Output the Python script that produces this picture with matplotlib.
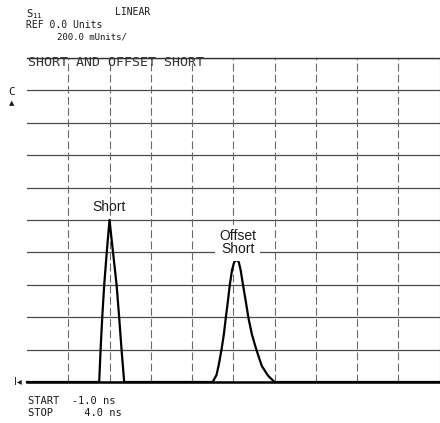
import matplotlib
matplotlib.use("Agg")
import matplotlib.pyplot as plt
import numpy as np
from matplotlib.ticker import MultipleLocator

# Time-domain trace (ns, linear units)
short_t = [-0.125, -0.108, -0.088, -0.064, -0.035, 0.0, 0.045, 0.086, 0.117, 0.146, 0.178]
short_v = [0.0, 0.2, 0.4, 0.6, 0.79, 1.0, 0.79, 0.6, 0.4, 0.2, 0.0]

offset_t = [1.25, 1.297, 1.324, 1.357, 1.385, 1.409, 1.437, 1.458, 1.485, 1.51, 1.525,
            1.54, 1.555, 1.568, 1.59, 1.618, 1.648, 1.686, 1.728, 1.78, 1.845, 1.92, 2.0]
offset_v = [0.0, 0.043, 0.105, 0.198, 0.29, 0.393, 0.506, 0.599, 0.69, 0.738, 0.749,
            0.753, 0.749, 0.738, 0.69, 0.60, 0.51, 0.39, 0.29, 0.20, 0.10, 0.04, 0.0]

start_ns = -1.0
stop_ns = 4.0
ref_units = 0.0
units_per_div = 0.2

trace_t = [start_ns] + short_t + offset_t + [stop_ns]
trace_v = [ref_units] + short_v + offset_v + [ref_units]

fig = plt.figure(figsize=(4.4, 4.23), dpi=100)
ax = fig.add_axes([27 / 440, 41 / 423, 412.5 / 440, 324 / 423])

ax.set_xlim(start_ns, stop_ns)
ax.set_ylim(ref_units, ref_units + 10 * units_per_div)
ax.yaxis.set_major_locator(MultipleLocator(units_per_div))
ax.set_xticks([])
ax.tick_params(length=0, labelbottom=False, labelleft=False)

# graticule: solid horizontals, dashed verticals (no line on the left edge)
ax.grid(axis="y", color="#4a4a4a", lw=0.9)
x_div = (stop_ns - start_ns) / 10
for xv in np.arange(start_ns + x_div, stop_ns - x_div / 2, x_div):
    ax.axvline(xv, color="#6a6a6a", lw=0.8, ls=(0, (7, 3)), zorder=1)
ax.set_axisbelow(True)

ax.spines["left"].set_visible(False)
ax.spines["top"].set_color("#333333")
ax.spines["top"].set_linewidth(1.0)
ax.spines["right"].set_color("#777777")
ax.spines["right"].set_linewidth(0.8)
ax.spines["bottom"].set_color("black")
ax.spines["bottom"].set_linewidth(1.8)

ax.plot(trace_t, trace_v, color="black", lw=1.6, clip_on=False, zorder=3,
        solid_joinstyle="round")

# peak labels
ax.text(0.0, 1.082, "Short", ha="center", va="center", fontsize=10,
        family="Liberation Sans", color="#1a1a1a")
ax.text(1.555, 0.86, "Offset\nShort", ha="center", va="center", fontsize=10,
        family="Liberation Sans", color="#1a1a1a", linespacing=0.95,
        bbox=dict(facecolor="white", edgecolor="none", pad=3), zorder=4)

mono = "DejaVu Sans Mono"
ax.text(0.003, 0.985, "SHORT AND OFFSET SHORT", transform=ax.transAxes,
        ha="left", va="center", fontsize=9.5, family=mono, color="#333333")

# header / footer readouts
fig.text(26 / 440, 1 - 14 / 423, "S$_{11}$", ha="left", va="center", fontsize=7.5,
         family=mono, color="#1a1a1a")
fig.text(115 / 440, 1 - 12 / 423, "LINEAR", ha="left", va="center", fontsize=7,
         family=mono, color="#1a1a1a")
fig.text(26 / 440, 1 - 25 / 423, "REF 0.0 Units", ha="left", va="center", fontsize=7,
         family=mono, color="#1a1a1a")
fig.text(57 / 440, 1 - 37.5 / 423, "200.0 mUnits/", ha="left", va="center", fontsize=6.5,
         family=mono, color="#1a1a1a")
fig.text(28 / 440, 1 - 400.5 / 423, "START  -1.0 ns", ha="left", va="center", fontsize=7.5,
         family=mono, color="#1a1a1a")
fig.text(28 / 440, 1 - 413 / 423, "STOP     4.0 ns", ha="left", va="center", fontsize=7.5,
         family=mono, color="#1a1a1a")

# screen markers on the left edge
fig.text(12 / 440, 1 - 92 / 423, "C", ha="center", va="center", fontsize=8,
         family=mono, color="#1a1a1a")
fig.text(12 / 440, 1 - 103 / 423, "\u25b2", ha="center", va="center", fontsize=5,
         family="DejaVu Sans", color="#1a1a1a")
fig.text(14 / 440, 1 - 382 / 423, "I\u25c2", ha="left", va="center", fontsize=7,
         family="DejaVu Sans", color="#1a1a1a")

fig.savefig("out.png", dpi=100)
plt.close(fig)
